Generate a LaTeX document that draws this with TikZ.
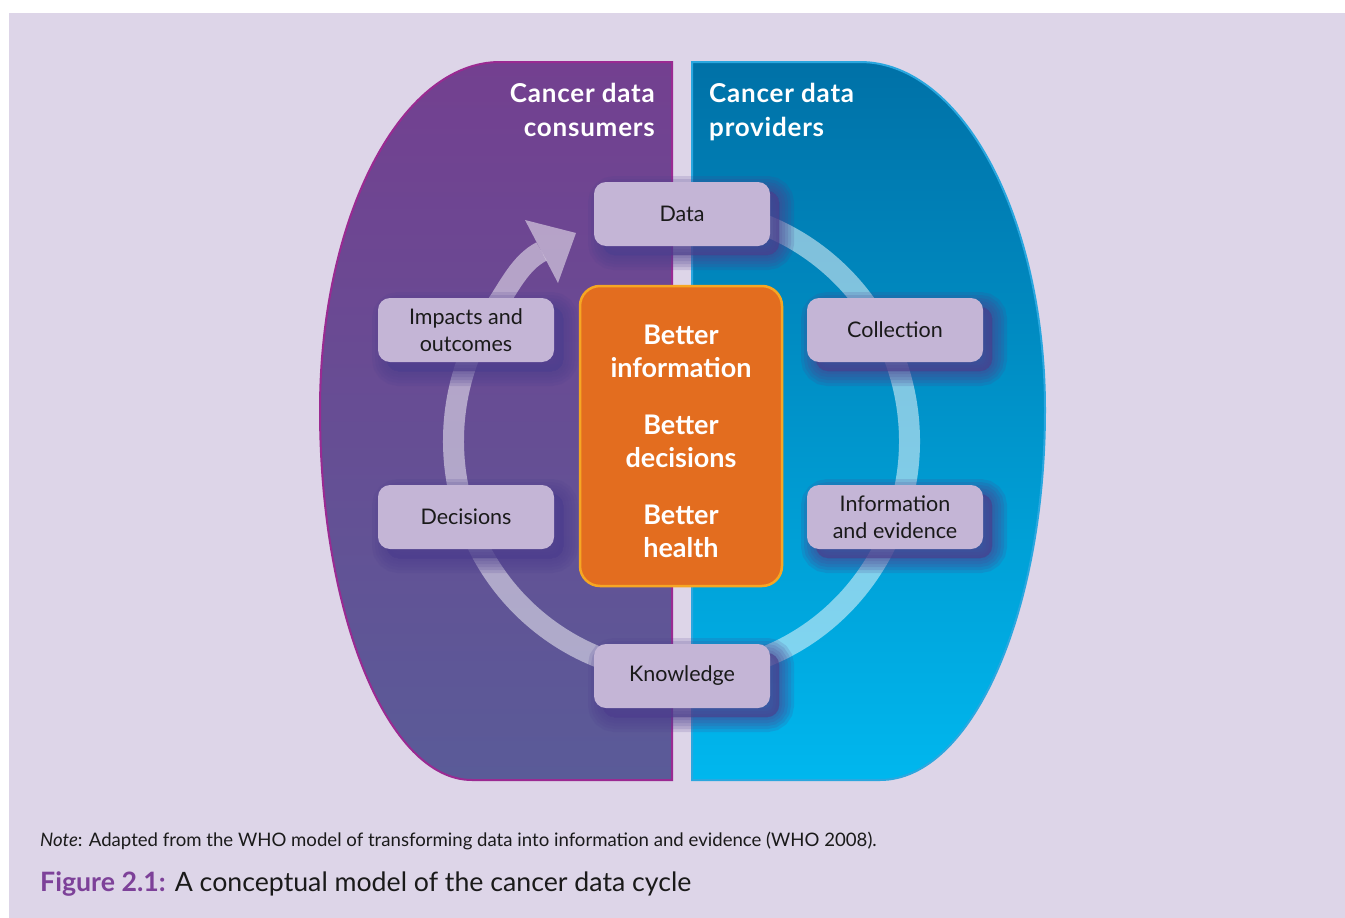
\documentclass[tikz,border=0pt]{standalone}
\usepackage{fontspec}
\setmainfont{Lato}
\usetikzlibrary{calc}
\definecolor{bgc}{HTML}{DDD5E8}
\definecolor{lefttop}{HTML}{734090}
\definecolor{leftbot}{HTML}{5A5B98}
\definecolor{leftline}{HTML}{9A2A92}
\definecolor{righttop}{HTML}{0071A7}
\definecolor{rightbot}{HTML}{00B7EE}
\definecolor{rightline}{HTML}{2AA7DF}
\definecolor{boxc}{HTML}{C4B5D6}
\definecolor{shadowc}{HTML}{4E3F8E}
\definecolor{orangec}{HTML}{E36D1F}
\definecolor{orangeline}{HTML}{F6A623}
\definecolor{capc}{HTML}{7D4199}
\definecolor{txt}{HTML}{1A1A1A}
\begin{document}
\begin{tikzpicture}[x=1pt,y=-1pt,
  shlayer/.style={preaction={fill=shadowc, draw=shadowc, line width=#1, opacity=0.16,
      transform canvas={xshift=9pt, yshift=-9pt}}},
  stage/.style={fill=boxc, rounded corners=12pt, minimum width=176pt, minimum height=64pt,
    align=center, inner sep=0pt, text=txt, font=\fontsize{21.5}{27}\selectfont,
    shlayer=30pt, shlayer=24pt, shlayer=18pt, shlayer=12pt, shlayer=6pt, shlayer=0.5pt},
  title/.style={text=white, inner sep=0pt,
    font=\fontsize{26}{34}\selectfont\bfseries\addfontfeatures{LetterSpace=3}},
  ring/.style={draw=white, draw opacity=0.5, line width=21pt},
  corebox/.style={fill=orangec, draw=orangeline, line width=2.5pt, rounded corners=20pt,
    minimum width=202pt, minimum height=300pt, inner sep=0pt},
  coretext/.style={align=center, text=white, inner sep=0pt,
    font=\fontsize{27}{33}\selectfont\bfseries}]
\useasboundingbox (0,0) rectangle (1345,918);
\fill[bgc] (9,13) rectangle (1345,918);

% consumer side
\path[draw=leftline, line width=2pt, top color=lefttop, bottom color=leftbot]
  (672,62) -- (500,62) arc[start angle=-90, end angle=-180, x radius=180, y radius=348]
  arc[start angle=180, end angle=90, x radius=152, y radius=370] -- (672,780) -- cycle;
% provider side
\path[draw=rightline, line width=2pt, top color=righttop, bottom color=rightbot]
  (692,62) -- (860,62) arc[start angle=-90, end angle=0, x radius=185, y radius=348]
  arc[start angle=0, end angle=90, x radius=165, y radius=370] -- (692,780) -- cycle;

\node[title, anchor=base east, align=right] (tcons) at (655,136) {Cancer data\\consumers};
\node[title, anchor=base west, align=left] (tprov) at (709,136) {Cancer data\\providers};

% cycle ring
\coordinate (c) at (681.5,441);
\coordinate (r0) at ($(c)+(-145:228 and 232)$);
\coordinate (abase) at (541.5,251.5);
\coordinate (aleft) at (525,220);
\coordinate (atip) at (576,233);
\coordinate (aright) at (558,283);
\draw[ring] (r0) arc[start angle=-145, end angle=-460, x radius=228, y radius=232];
\draw[ring] (r0) .. controls (508.9,287.4) and (520,262.5) .. (abase);
\fill[white, fill opacity=0.5] (aleft) -- (atip) -- (aright) -- cycle;

% stages
\node[stage] (data) at (682,214) {Data};
\node[stage] (coll) at (895,330) {Collection};
\node[stage] (info) at (895,517) {Information\\and evidence};
\node[stage] (know) at (682,676) {Knowledge};
\node[stage] (dec) at (466,517) {Decisions};
\node[stage] (imp) at (466,330) {Impacts and\\outcomes};

\node[corebox] (core) at (681,436) {};
\node[coretext] (coretxt) at (681,441) {Better\\information\\[24pt]Better\\decisions\\[24pt]Better\\health};

\node[anchor=base west, inner sep=0pt, text=txt, font=\fontsize{18.6}{22}\selectfont] (note) at (40,846)
  {\textit{Note}: Adapted from the WHO model of transforming data into information and evidence (WHO 2008).};
\node[anchor=base west, inner sep=0pt, text=txt, font=\fontsize{26.7}{32}\selectfont] (cap) at (40,891)
  {\textcolor{capc}{\bfseries Figure 2.1:} A conceptual model of the cancer data cycle};
\end{tikzpicture}
\end{document}
